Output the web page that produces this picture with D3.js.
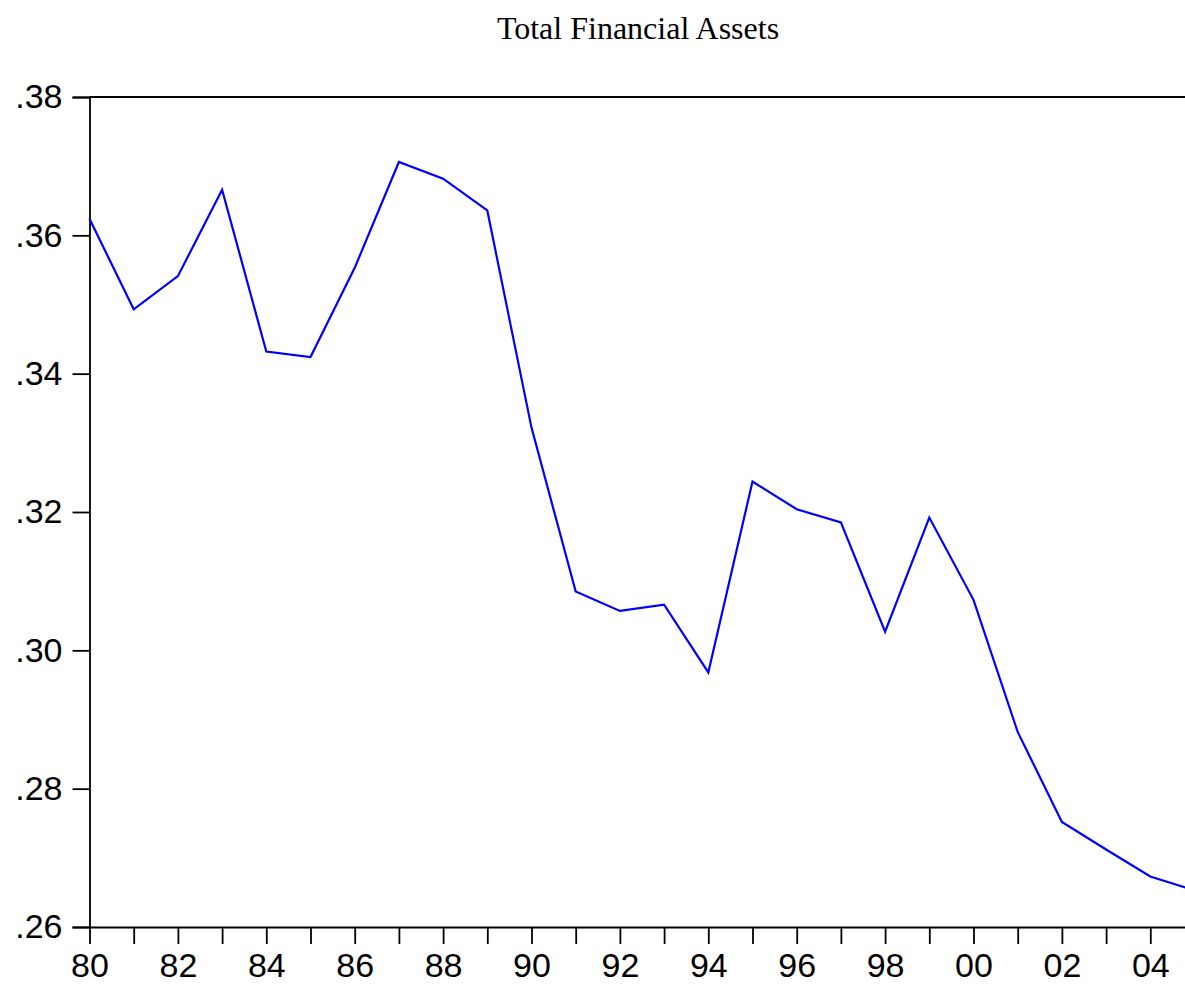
<!DOCTYPE html>
<html>
<head>
<meta charset="utf-8">
<script src="https://cdn.jsdelivr.net/npm/d3@7"></script>
<style>
  body { margin: 0; background: #fff; }
  .axis text { font-family: "Liberation Sans", Arial, sans-serif; font-size: 34px; fill: #000; }
  .axis path, .axis line { stroke: #000; stroke-width: 1.8px; }
  .title { font-family: "Liberation Serif", "Times New Roman", serif; font-size: 32px; }
</style>
</head>
<body>
<div id="main"></div>
<script>
// yearly values
var years = [1980, 1981, 1982, 1983, 1984, 1985, 1986, 1987, 1988, 1989,
             1990, 1991, 1992, 1993, 1994, 1995, 1996, 1997, 1998, 1999,
             2000, 2001, 2002, 2003, 2004, 2005];
var assets = [0.3624, 0.3493, 0.3541, 0.3666, 0.3432, 0.3424, 0.3553, 0.3706, 0.3682, 0.3636,
              0.3322, 0.3085, 0.3057, 0.3066, 0.2968, 0.3244, 0.3204, 0.3185, 0.3027, 0.3192,
              0.3073, 0.2882, 0.2752, 0.2712, 0.2673, 0.2653];
var yTicks = [0.26, 0.28, 0.30, 0.32, 0.34, 0.36, 0.38];
var xLabelYears = [1980, 1982, 1984, 1986, 1988, 1990, 1992, 1994, 1996, 1998, 2000, 2002, 2004];

var margin = {top: 97, right: 0, bottom: 57, left: 89.5},
    width = 1194.5 - margin.left,   // plot runs a bit past the right edge of the picture
    height = 984 - margin.top - margin.bottom;

var data = years.map(function(y, i) { return {year: y, value: assets[i]}; });

var svg = d3.select("#main")
    .append("svg")
    .attr("width", 1185)
    .attr("height", 984);

svg.append("text")
    .attr("class", "title")
    .attr("x", 638)
    .attr("y", 39)
    .style("text-anchor", "middle")
    .text("Total Financial Assets");

var g = svg.append("g")
    .attr("transform", "translate(" + margin.left + "," + margin.top + ")");

var xScale = d3.scaleLinear()
    .domain([1980, 2005])
    .range([0, width]);

var yScale = d3.scaleLinear()
    .domain([0.26, 0.38])
    .range([height, 0]);

var yAxis = d3.axisLeft(yScale)
    .tickValues(yTicks)
    .tickSize(17)
    .tickPadding(10)
    .tickFormat(function(d) { return d3.format(".2f")(d).replace(/^0/, ""); });

var xAxis = d3.axisBottom(xScale)
    .tickValues(years.slice(0, 25))
    .tickSize(17)
    .tickSizeOuter(0)
    .tickPadding(9)
    .tickFormat(function(d) { return xLabelYears.indexOf(d) >= 0 ? String(d).slice(2) : ""; });

// top border
g.append("line")
    .attr("x1", 0)
    .attr("x2", width)
    .attr("y1", 0)
    .attr("y2", 0)
    .style("stroke", "#000")
    .style("stroke-width", "1.8px");

g.append("g")
    .attr("class", "x axis")
    .attr("transform", "translate(0," + height + ")")
    .call(xAxis);

g.append("g")
    .attr("class", "y axis")
    .call(yAxis);

var line = d3.line()
    .x(function(d) { return xScale(d.year); })
    .y(function(d) { return yScale(d.value); });

g.append("path")
    .datum(data)
    .attr("d", line)
    .style("fill", "none")
    .style("stroke", "#0000ff")
    .style("stroke-width", 2.2);
</script>
</body>
</html>
